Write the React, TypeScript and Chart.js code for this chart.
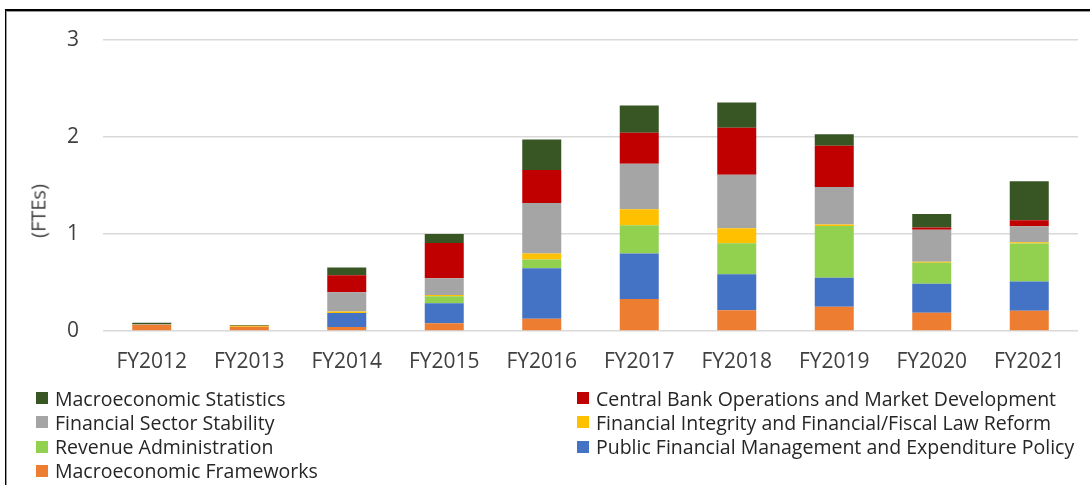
import React, { useEffect, useRef } from "react";
import { Chart, registerables } from "chart.js";

Chart.register(...registerables);

const categories = ["FY2012", "FY2013", "FY2014", "FY2015", "FY2016", "FY2017", "FY2018", "FY2019", "FY2020", "FY2021"];

const seriesNames = [
  "Macroeconomic Frameworks",
  "Public Financial Management and Expenditure Policy",
  "Revenue Administration",
  "Financial Integrity and Financial/Fiscal Law Reform",
  "Financial Sector Stability",
  "Central Bank Operations and Market Development",
  "Macroeconomic Statistics",
];

const seriesColors = ["#ED7D31", "#4472C4", "#92D050", "#FFC000", "#A5A5A5", "#C00000", "#375623"];

const macroFrameworks = [0.065, 0.043, 0.04, 0.08, 0.127, 0.33, 0.215, 0.25, 0.188, 0.21];
const publicFinancialMgmt = [0, 0, 0.145, 0.206, 0.52, 0.47, 0.37, 0.3, 0.3, 0.3];
const revenueAdmin = [0, 0, 0, 0.072, 0.09, 0.29, 0.32, 0.533, 0.216, 0.392];
const financialIntegrity = [0, 0.01, 0.015, 0.013, 0.062, 0.165, 0.155, 0.014, 0.01, 0.014];
const financialSector = [0.005, 0, 0.2, 0.172, 0.521, 0.47, 0.55, 0.388, 0.33, 0.165];
const centralBank = [0, 0, 0.175, 0.364, 0.34, 0.32, 0.485, 0.426, 0.024, 0.062];
const macroStatistics = [0.015, 0.01, 0.08, 0.093, 0.313, 0.28, 0.26, 0.117, 0.138, 0.402];

const seriesValues = [
  macroFrameworks,
  publicFinancialMgmt,
  revenueAdmin,
  financialIntegrity,
  financialSector,
  centralBank,
  macroStatistics,
];

const yTickValues = [0, 1, 2, 3];
const yAxisTitle = "(FTEs)";

// legend columns (indices into seriesNames)
const legendLeft = [6, 4, 2, 0];
const legendRight = [5, 3, 1];

const FONT = "'Open Sans', 'Noto Sans', sans-serif";

export default function App() {
  const canvasRef = useRef<HTMLCanvasElement | null>(null);

  useEffect(() => {
    if (!canvasRef.current) return;
    const chart = new Chart(canvasRef.current, {
      type: "bar",
      data: {
        labels: categories,
        datasets: seriesValues.map((vals, i) => ({
          label: seriesNames[i],
          data: vals,
          backgroundColor: seriesColors[i],
          borderWidth: 0,
          barPercentage: 0.4,
          categoryPercentage: 1,
        })),
      },
      options: {
        animation: false,
        responsive: false,
        maintainAspectRatio: false,
        layout: { padding: { top: 40, right: 12, left: 0, bottom: 0 } },
        plugins: {
          legend: { display: false },
          tooltip: { enabled: false },
          title: { display: false },
        },
        scales: {
          x: {
            stacked: true,
            grid: { display: false, drawTicks: false },
            border: { display: false },
            ticks: {
              color: "#404040",
              font: { family: FONT, size: 21 },
              padding: 18,
              maxRotation: 0,
              autoSkip: false,
            },
            afterFit: (scale: any) => {
              scale.height = 154;
            },
          },
          y: {
            stacked: true,
            min: 0,
            max: 3,
            afterBuildTicks: (scale: any) => {
              scale.ticks = yTickValues.map((v) => ({ value: v }));
            },
            grid: { color: "#D9D9D9", lineWidth: 1.5, drawTicks: false },
            border: { display: false },
            ticks: {
              color: "#404040",
              font: { family: FONT, size: 21 },
              padding: 24,
            },
            afterFit: (scale: any) => {
              scale.width = 103;
            },
          },
        },
      },
    });
    return () => chart.destroy();
  }, []);

  const legendItem = (idx: number, left: number, top: number) => (
    <div
      key={idx}
      style={{
        position: "absolute",
        left,
        top,
        height: 24,
        display: "flex",
        alignItems: "center",
        whiteSpace: "nowrap",
        fontFamily: FONT,
        fontSize: 19.5,
        color: "#262626",
      }}
    >
      <span
        style={{
          display: "inline-block",
          width: 12,
          height: 12,
          background: seriesColors[idx],
          marginRight: 7,
        }}
      />
      {seriesNames[idx]}
    </div>
  );

  return (
    <div
      style={{
        position: "fixed",
        left: 0,
        top: 0,
        width: 1090,
        height: 485,
        overflow: "hidden",
        background: "#fff",
      }}
    >
      <div
        style={{
          position: "absolute",
          left: 5,
          top: 9,
          width: 1200,
          height: 600,
          borderLeft: "1px solid #000",
          borderTop: "2px solid #000",
          boxShadow: "inset 1px 1px 0 #999",
        }}
      />
      <canvas ref={canvasRef} width={1090} height={485} style={{ position: "absolute", left: 0, top: 0 }} />
      <div
        style={{
          position: "absolute",
          left: 38,
          top: 211,
          transform: "translate(-50%, -50%) rotate(-90deg)",
          fontFamily: FONT,
          fontSize: 20,
          color: "#404040",
          whiteSpace: "nowrap",
        }}
      >
        {yAxisTitle}
      </div>
      {legendLeft.map((idx, r) => legendItem(idx, 36, 386 + r * 24.3))}
      {legendRight.map((idx, r) => legendItem(idx, 577, 386 + r * 24.3))}
    </div>
  );
}
